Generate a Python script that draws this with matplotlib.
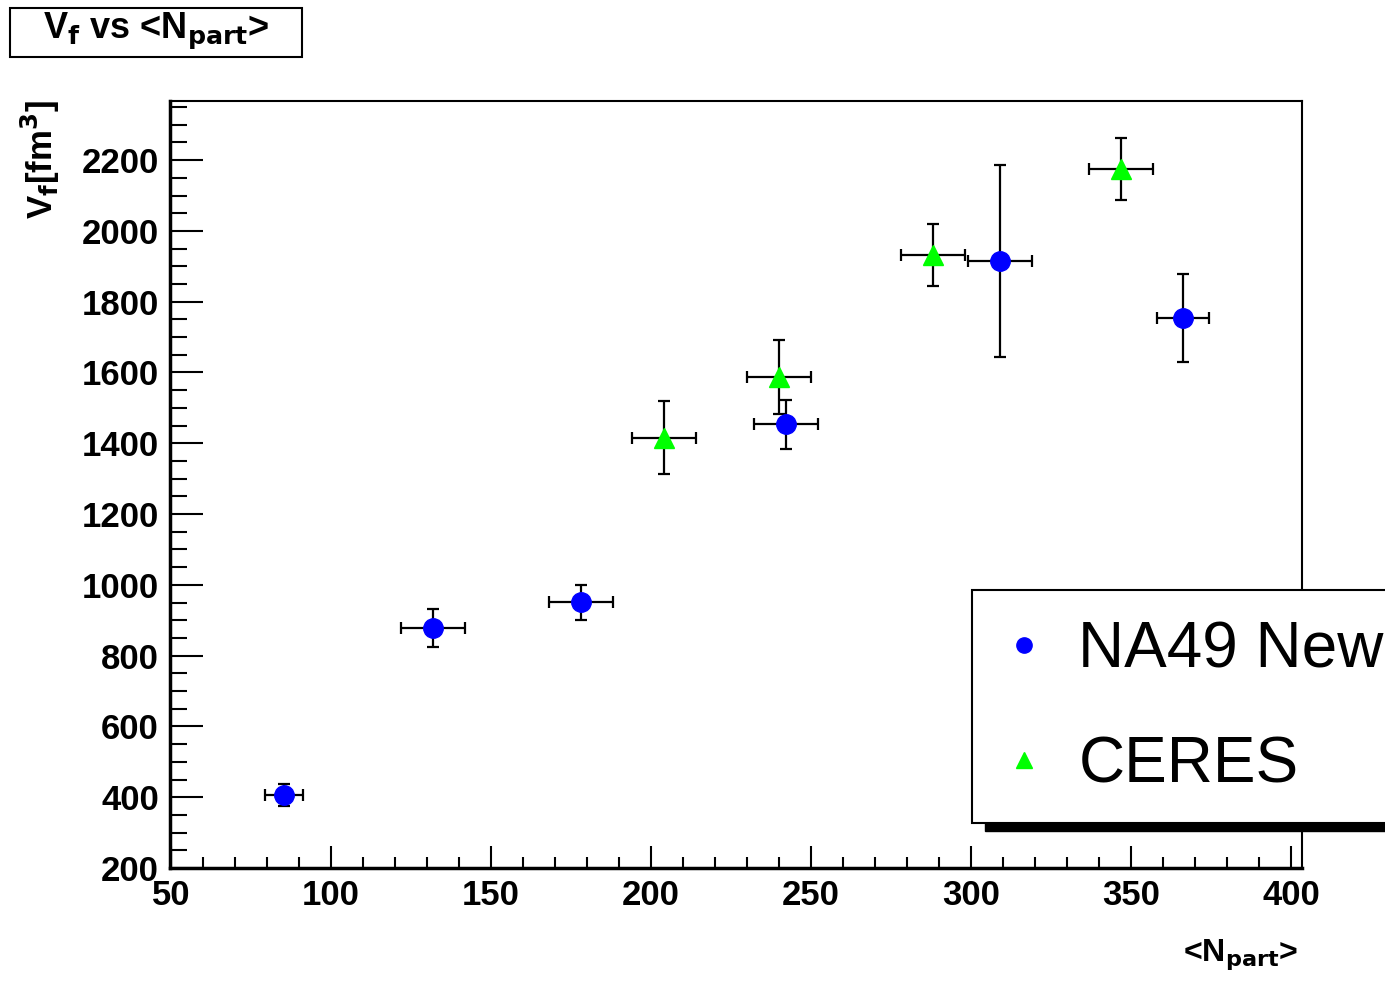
import matplotlib.pyplot as plt
from matplotlib.patches import Rectangle
from matplotlib.lines import Line2D
from matplotlib.ticker import MultipleLocator

plt.rcParams['font.family'] = ['Liberation Sans', 'DejaVu Sans']

# NA49 New
na49_x = [85.3, 131.9, 178.1, 242.2, 309.0, 366.2]
na49_y = [406, 878, 951, 1454, 1915, 1754]
na49_xerr = [6, 10, 10, 10, 10, 8]
na49_yerr = [31, 54, 49, 69, 271, 124]

# CERES
ceres_x = [204.0, 240.0, 288.0, 347.0]
ceres_y = [1415, 1587, 1932, 2175]
ceres_xerr = [10, 10, 10, 10]
ceres_yerr = [103, 105, 88, 88]

W, H = 1385, 981
fig = plt.figure(figsize=(W / 100, H / 100), dpi=100)


def fx(px):
    return px / W


def fy(py):
    return 1 - py / H


ax = fig.add_axes([fx(170), fy(868), fx(1302) - fx(170), fy(101) - fy(868)])

ax.errorbar(na49_x, na49_y, xerr=na49_xerr, yerr=na49_yerr, fmt='o', color='blue',
            markersize=14, ecolor='black', elinewidth=1.6, capsize=4, capthick=1.6, zorder=3)
ax.errorbar(ceres_x, ceres_y, xerr=ceres_xerr, yerr=ceres_yerr, fmt='^', color='#00ff00',
            markersize=14, ecolor='black', elinewidth=1.6, capsize=4, capthick=1.6, zorder=3)

ax.set_xlim(49.7, 403.4)
ax.set_ylim(200, 2367)

ax.xaxis.set_major_locator(MultipleLocator(50))
ax.xaxis.set_minor_locator(MultipleLocator(10))
ax.yaxis.set_major_locator(MultipleLocator(200))
ax.yaxis.set_minor_locator(MultipleLocator(50))

for s in ax.spines.values():
    s.set_linewidth(1.5)
ax.spines['left'].set_linewidth(2.5)
ax.spines['bottom'].set_linewidth(2.5)

ax.tick_params(axis='y', which='major', direction='in', length=24, width=1.5, pad=8,
               labelsize=25, right=False)
ax.tick_params(axis='y', which='minor', direction='in', length=12, width=1.5, right=False)
ax.tick_params(axis='x', which='major', direction='in', length=16, width=1.5, pad=8,
               labelsize=25, top=False)
ax.tick_params(axis='x', which='minor', direction='in', length=8, width=1.5, top=False)
for lab in ax.get_xticklabels() + ax.get_yticklabels():
    lab.set_fontweight('bold')

# axis titles
fig.text(fx(1298), fy(955), r'<N$_{\mathbf{part}}$>', ha='right', va='center',
         fontsize=23, fontweight='bold')
fig.text(fx(40), fy(100), r'V$_{\mathbf{f}}$[fm$^{\mathbf{3}}$]', ha='center', va='top',
         rotation=90, fontsize=25, fontweight='bold')

# title box
fig.patches.append(Rectangle((fx(10), fy(57)), fx(302) - fx(10), fy(8) - fy(57),
                             transform=fig.transFigure, facecolor='white',
                             edgecolor='black', linewidth=1.5))
fig.text(fx(156), fy(31), r'V$_{\mathbf{f}}$ vs <N$_{\mathbf{part}}$>', ha='center',
         va='center', fontsize=26, fontweight='bold')

# legend box with shadow
fig.patches.append(Rectangle((fx(985), fy(831)), fx(1400) - fx(985), fy(823) - fy(831),
                             transform=fig.transFigure, facecolor='black',
                             edgecolor='black', zorder=5))
fig.patches.append(Rectangle((fx(972), fy(823)), fx(1400) - fx(972), fy(590) - fy(823),
                             transform=fig.transFigure, facecolor='white',
                             edgecolor='black', linewidth=1.5, zorder=5))
handles = [Line2D([], [], marker='o', linestyle='none', color='blue', markersize=11),
           Line2D([], [], marker='^', linestyle='none', color='#00ff00', markersize=11)]
leg = fig.legend(handles, ['NA49 New', 'CERES'], loc='upper left',
                 bbox_to_anchor=(fx(992), fy(620)), frameon=False, fontsize=46,
                 handlelength=1.0, handletextpad=0.35, labelspacing=0.87,
                 borderaxespad=0, borderpad=0)
leg.set_zorder(6)

fig.savefig('out.png', dpi=100)
